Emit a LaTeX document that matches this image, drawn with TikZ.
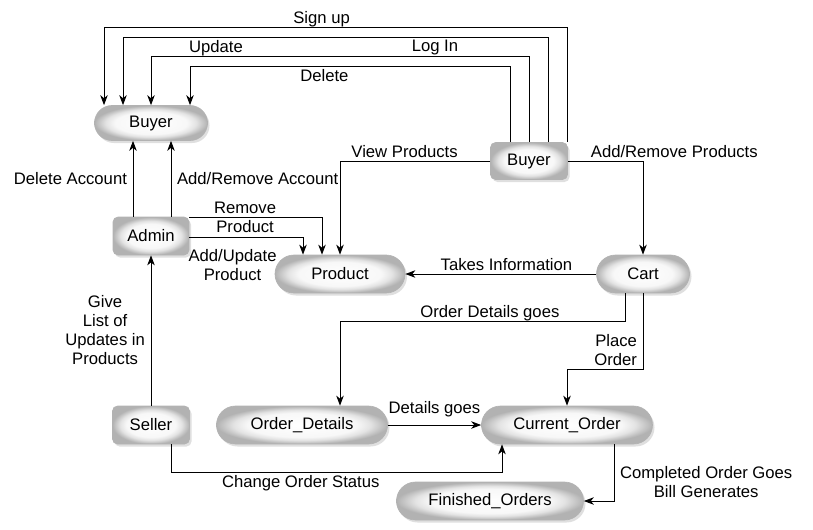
\documentclass[tikz,border=0pt]{standalone}
\usepackage{fontspec}
\setmainfont{Liberation Sans}
\usetikzlibrary{arrows.meta,calc,shapes.misc,shadows}
\newcommand{\px}{0.6pt}
\pgfdeclareradialshading{glow}{\pgfpointorigin}{color(0bp)=(white); color(16bp)=(white!97!black); color(20bp)=(gray!22); color(23bp)=(gray!45); color(25bp)=(gray!60); color(50bp)=(gray!60)}

\begin{document}
\begin{tikzpicture}[x=0.6pt,y=-0.6pt,font=\fontsize{10}{11.4}\selectfont,
  pill/.style={rounded rectangle,shading=glow,draw=gray!60,line width=0.4pt,
    drop shadow={shadow xshift=1.2pt,shadow yshift=-1.5pt,fill=gray!50},
    minimum height=38*\px,inner sep=0pt},
  box/.style={rectangle,rounded corners=3pt,shading=glow,draw=gray!60,line width=0.4pt,
    drop shadow={shadow xshift=1.2pt,shadow yshift=-1.5pt,fill=gray!50},
    minimum height=38*\px,minimum width=77*\px,inner sep=0pt},
  arr/.style={-{Stealth[length=6pt,width=4.5pt,inset=1.8pt]},line width=0.6pt},
  lblup/.style={anchor=base,yshift=2.2pt},
  lbldown/.style={anchor=north,inner sep=1.5pt}]
\useasboundingbox (0,0) rectangle (813,529);

% nodes
\node[pill,minimum width=113*\px,minimum height=35*\px] (buyer) at (151,123) {Buyer};
\node[box,minimum height=37*\px] (buyerr) at (529,161) {Buyer};
\node[box,minimum width=76*\px] (admin) at (151,236) {Admin};
\node[pill,minimum width=130*\px] (product) at (340,274) {Product};
\node[pill,minimum width=93*\px] (cart) at (643,274) {Cart};
\node[box] (seller) at (151,425) {Seller};
\node[pill,minimum width=171*\px] (orderdetails) at (302,425) {Order\_Details};
\node[pill,minimum width=171*\px] (currentorder) at (567,425) {Current\_Order};
\node[pill,minimum width=187*\px] (finished) at (490,501) {Finished\_Orders};

% buyer loops
\draw[arr] ($(buyerr.north)+(38,0)$) -- ++(0,-115) -| node[pos=0.265,lblup]{Sign up} ($(buyer.north)+(-47,0)$);
\draw[arr] ($(buyerr.north)+(19,0)$) -- ++(0,-105) -| node[pos=0.133,lbldown]{Log In} ($(buyer.north)+(-28,0)$);
\draw[arr] (buyerr.north) -- ++(0,-86) -| node[pos=0.414,lblup]{Update} (buyer.north);
\draw[arr] ($(buyerr.north)+(-19,0)$) -- ++(0,-76) -| node[pos=0.29,lbldown]{Delete} ($(buyer.north)+(39,0)$);

% buyer to product and cart
\draw[arr] (buyerr.west) -| node[pos=0.285,lblup]{View Products} (product.north);
\draw[arr] (buyerr.east) -| node[pos=0,anchor=base west,xshift=17*\px,yshift=2.2pt]{Add/Remove Products} (cart.north);
\draw[arr] (cart.west) -- node[pos=0.47,lblup]{Takes Information} (product.east);

% admin
\draw[arr] ($(admin.north)+(-18,0)$) -- node[left]{Delete Account} ($(buyer.south)+(-18,0)$);
\draw[arr] ($(admin.north)+(20,0)$) -- node[right]{Add/Remove Account} ($(buyer.south)+(20,0)$);
\draw[arr] ($(admin.east)+(0,-19)$) -| node[pos=0.21,align=center]{Remove\\Product} ($(product.north)+(-18,0)$);
\draw[arr] ($(admin.east)+(0,1)$) -| node[pos=0.19,lbldown,yshift=-5.5pt,align=center]{Add/Update\\Product} ($(product.north)+(-37,0)$);

% seller
\draw[arr] (seller.north) -- node[left,align=center]{Give\\List of\\Updates in\\Products} (admin.south);
\draw[arr] ($(seller.south)+(20,0)$) -- ++(0,28) -| node[pos=0.196,lbldown]{Change Order Status} ($(currentorder.south)+(-65,0)$);

% orders
\draw[arr] ($(cart.south)+(-18,0)$) -- ++(0,28) -| node[pos=0.237,lblup]{Order Details goes} ($(orderdetails.north)+(38,0)$);
\draw[arr] (cart.south) -- ++(0,76) node[pos=0.74,left,align=right]{Place\\Order} -| (currentorder.north);
\draw[arr] (orderdetails.east) -- node[lblup,yshift=5pt]{Details goes} (currentorder.west);
\draw[arr] ($(currentorder.south)+(47,0)$) |- node[pos=0.33,right,align=center]{Completed Order Goes\\Bill Generates} (finished.east);
\end{tikzpicture}
\end{document}
